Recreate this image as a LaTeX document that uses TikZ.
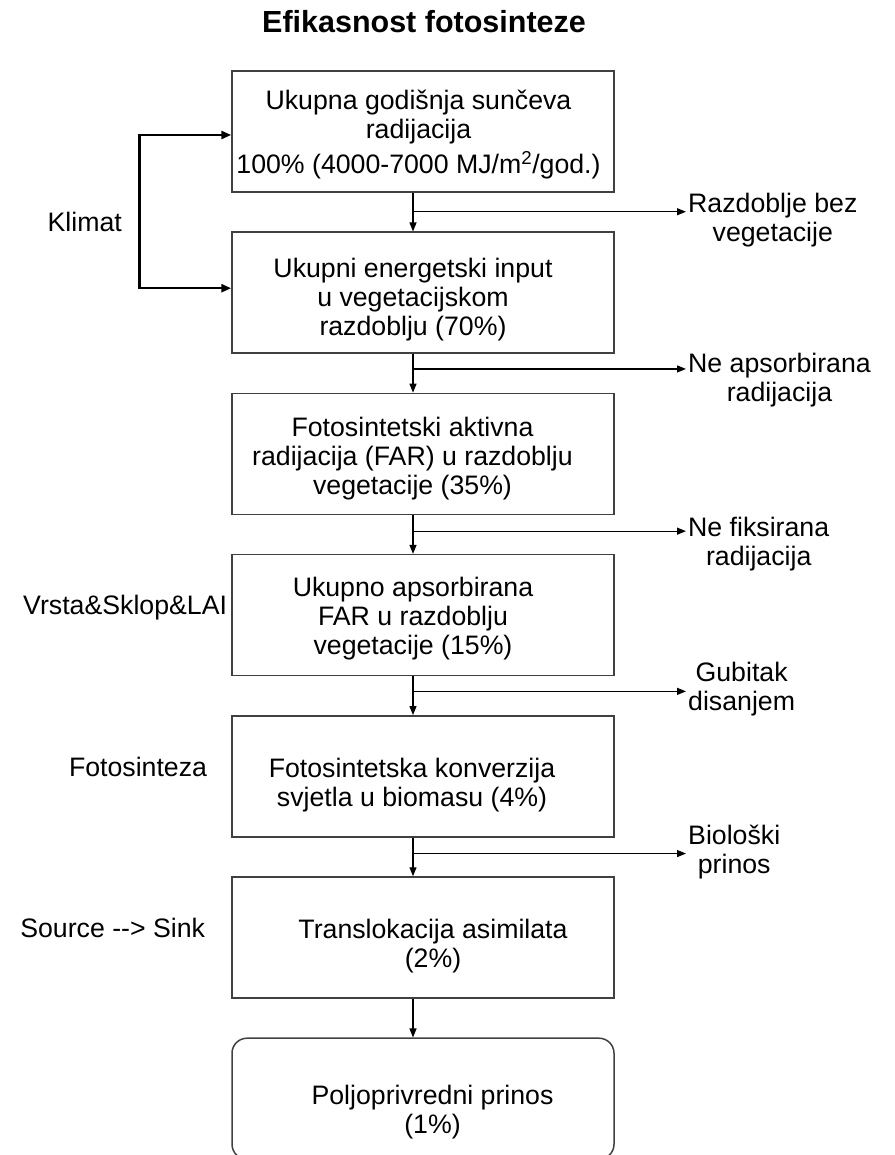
\documentclass[tikz,border=0pt]{standalone}
\usepackage{fontspec}
\setmainfont{Liberation Sans}
\usetikzlibrary{arrows.meta,positioning}

% tekst u kutiji: pomak x, pomak y, redovi
\newcommand{\btxt}[3]{\hspace*{#1}\raisebox{#2}[\height][\depth]{\begin{tabular}{@{}c@{}}#3\end{tabular}}\hspace*{-#1}}

\tikzset{
  box/.style={draw=black!75, line width=1.5pt, minimum width=382pt, minimum height=121pt,
    inner sep=2pt, font=\fontsize{26.7}{29}\selectfont},
  endbox/.style={box, rounded corners=15pt},
  flow/.style={-{Triangle[length=9pt,width=7pt]}, line width=1.2pt},
  klimatline/.style={{Triangle[length=10pt,width=8pt]}-{Triangle[length=10pt,width=8pt]}, line width=2.6pt},
  sidetxt/.style={inner sep=0pt, font=\fontsize{26.7}{29}\selectfont},
  outtxt/.style={inner sep=2pt, align=center, anchor=west, font=\fontsize{26.7}{29}\selectfont},
}

\begin{document}
\begin{tikzpicture}[x=1pt,y=-1pt,node distance=38.7pt]
\useasboundingbox (0,0) rectangle (894,1155);
\clip (0,0) rectangle (894,1155);

\node[anchor=base, font=\bfseries\fontsize{30.5}{36}\selectfont] (title) at (424,33) {Efikasnost fotosinteze};

% glavni lanac
\node[box] (b1) at (423,131.5) {\btxt{-4.5pt}{-4pt}{Ukupna godišnja sunčeva\\ radijacija\\[4pt] 100\% (4000-7000 MJ/m\textsuperscript{2}/god.)}};
\node[box, below=of b1] (b2) {\btxt{-10pt}{-8pt}{Ukupni energetski input\\ u vegetacijskom\\ razdoblju (70\%)}};
\node[box, below=of b2] (b3) {\btxt{-10.5pt}{-6pt}{Fotosintetski aktivna\\ radijacija (FAR) u razdoblju\\ vegetacije (35\%)}};
\node[box, below=of b3] (b4) {\btxt{-10pt}{-5pt}{Ukupno apsorbirana\\ FAR u razdoblju\\ vegetacije (15\%)}};
\node[box, below=of b4] (b5) {\btxt{-11pt}{-10pt}{Fotosintetska konverzija\\ svjetla u biomasu (4\%)}};
\node[box, below=of b5] (b6) {\btxt{10pt}{-10pt}{Translokacija asimilata\\ (2\%)}};
\node[endbox, below=of b6] (b7) {\btxt{9.5pt}{-14pt}{Poljoprivredni prinos\\ (1\%)}};

\foreach \a/\b in {b1/b2,b2/b3,b3/b4,b4/b5,b5/b6,b6/b7}
  \draw[flow] ([xshift=-10pt]\a.south) -- ([xshift=-10pt]\b.north);

% gubici desno
\coordinate (j1) at ([xshift=-10pt,yshift=-19pt]b1.south);
\coordinate (j2) at ([xshift=-10pt,yshift=-15pt]b2.south);
\coordinate (j3) at ([xshift=-10pt,yshift=-16pt]b3.south);
\coordinate (j4) at ([xshift=-10pt,yshift=-15pt]b4.south);
\coordinate (j5) at ([xshift=-10pt,yshift=-16pt]b5.south);

\node[outtxt] (o1) at (686,219.7) {Razdoblje bez\\ vegetacije};
\node[outtxt] (o2) at (686,380) {Ne apsorbirana\\ radijacija};
\node[outtxt] (o3) at (686,544) {Ne fiksirana\\ radijacija};
\node[outtxt] (o4) at (686,689) {Gubitak\\ disanjem};
\node[outtxt] (o5) at (686,852) {Biološki\\ prinos};

\foreach \j/\o in {j1/o1,j2/o2,j3/o3,j4/o4,j5/o5}
  \draw[flow] (\j) -- (\j -| \o.west);

% faktori lijevo
\node[sidetxt, anchor=east] (klimat) at (122,221.5) {Klimat};
\draw[klimatline] ([yshift=-3.5pt]b1.west) -- ++(-92,0) |- ([yshift=4.5pt]b2.west);
\node[sidetxt, left=4pt of b4, yshift=7.75pt] (vrsta) {Vrsta\&Sklop\&LAI};
\node[sidetxt, left=24pt of b5, yshift=9.5pt] (fotos) {Fotosinteza};
\node[sidetxt, left=26pt of b6, yshift=10pt] (sink) {Source -\kern0pt-> Sink};
\end{tikzpicture}
\end{document}
